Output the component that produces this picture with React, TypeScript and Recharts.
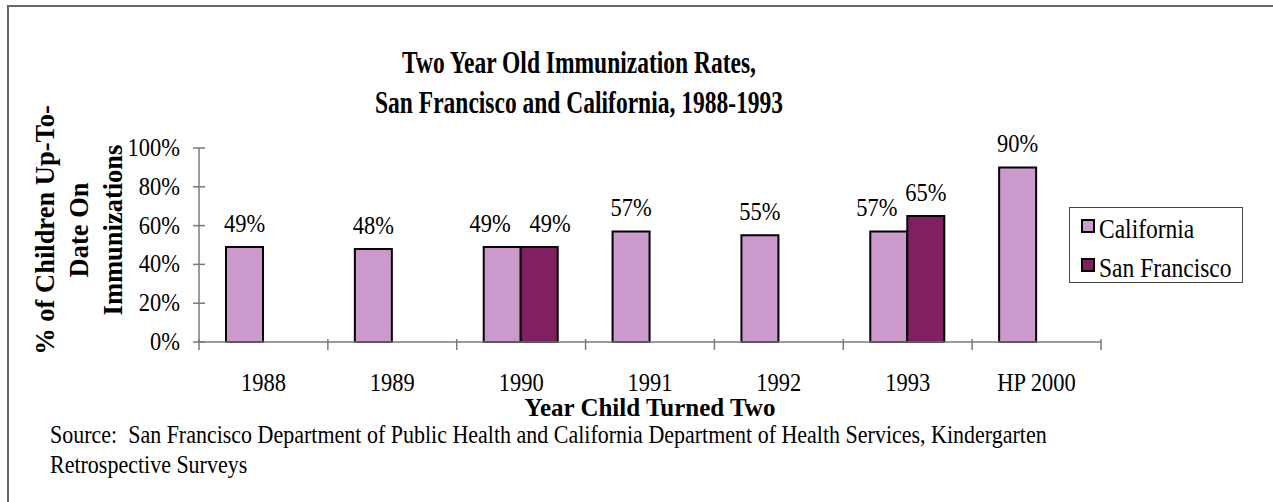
import React from 'react';
import { BarChart, Bar, XAxis, YAxis, LabelList, Legend } from 'recharts';

const categories = ['1988', '1989', '1990', '1991', '1992', '1993', 'HP 2000'];
const california = [49, 48, 49, 57, 55, 57, 90];
const sanFrancisco: (number | null)[] = [null, null, 49, null, null, 65, null];
const yTicks = [0, 20, 40, 60, 80, 100];

const titleLines = ['Two Year Old Immunization Rates,', 'San Francisco and California, 1988-1993'];
const yTitleLines = ['% of Children Up-To-', 'Date On', 'Immunizations'];
const xTitle = 'Year Child Turned Two';
const sourceLines = [
  'Source:  San Francisco Department of Public Health and California Department of Health Services, Kindergarten',
  'Retrospective Surveys',
];

const data = categories.map((c, i) => ({
  year: c,
  california: california[i],
  sanFrancisco: sanFrancisco[i],
}));

const W = 1273;
const H = 502;
const MARGIN = { top: 148, right: 172, bottom: 120, left: 139 };
const Y_AXIS_W = 60;
const X_AXIS_H = 40;
const PLOT_W = W - MARGIN.left - MARGIN.right - Y_AXIS_W;
const BAND = PLOT_W / categories.length;

const FONT = '"Liberation Serif", "Times New Roman", serif';
const CA_COLOR = '#CC99CC';
const SF_COLOR = '#802060';
const AXIS_COLOR = '#7a7a7a';
const STRETCH = 1.12;

const SText = (props: any) => {
  const { x, y, sy = STRETCH, children, ...rest } = props;
  return (
    <text
      x={0}
      y={0}
      transform={`translate(${x},${y}) scale(1,${sy})`}
      fontFamily={FONT}
      fill="#000"
      {...rest}
    >
      {children}
    </text>
  );
};

const XTick = (props: any) => {
  const { x, y, payload, index } = props;
  const left = x - BAND / 2;
  return (
    <g>
      <line x1={left} x2={left} y1={y - 3} y2={y + 8} stroke={AXIS_COLOR} strokeWidth={1.5} />
      {index === categories.length - 1 && (
        <line x1={x + BAND / 2} x2={x + BAND / 2} y1={y - 3} y2={y + 8} stroke={AXIS_COLOR} strokeWidth={1.5} />
      )}
      <SText x={x} y={y + 49} textAnchor="middle" fontSize={22.5}>
        {payload.value}
      </SText>
    </g>
  );
};

const YTick = (props: any) => {
  const { x, y, payload } = props;
  return (
    <g>
      <line x1={x - 6} x2={x + 6} y1={y} y2={y} stroke={AXIS_COLOR} strokeWidth={1.5} />
      <SText x={x - 19} y={y + 8} textAnchor="end" fontSize={22.5}>
        {`${payload.value}%`}
      </SText>
    </g>
  );
};

const makeLabel = (series: 'ca' | 'sf') => (props: any) => {
  const { x, y, width, value, index } = props;
  if (value === null || value === undefined) return null;
  const other = series === 'ca' ? sanFrancisco[index] : california[index];
  let dx = 0;
  if (other !== null && other !== undefined) {
    if (series === 'ca') dx = -12;
    else if (Math.abs((other as number) - value) < 5) dx = 11;
  }
  return (
    <SText x={x + width / 2 + dx} y={y - 15} textAnchor="middle" fontSize={22.5}>
      {`${value}%`}
    </SText>
  );
};

const LegendContent = (props: any) => {
  const items = props.payload || [];
  return (
    <div
      style={{
        width: 174,
        height: 76,
        border: '1.5px solid #444',
        background: '#fff',
        boxSizing: 'border-box',
        fontFamily: FONT,
        position: 'relative',
      }}
    >
      {items.map((it: any, i: number) => (
        <div
          key={it.value}
          style={{ position: 'absolute', left: 11, top: 9 + i * 39, display: 'flex', alignItems: 'flex-start' }}
        >
          <div
            style={{
              width: 14,
              height: 14,
              background: it.color,
              border: '2px solid #000',
              boxSizing: 'border-box',
              marginTop: 2,
              marginRight: 4,
            }}
          />
          <span
            style={{
              fontSize: 23.5,
              lineHeight: '26px',
              color: '#000',
              display: 'inline-block',
              transform: `scaleY(${STRETCH})`,
              transformOrigin: '50% 75%',
              whiteSpace: 'nowrap',
            }}
          >
            {it.value}
          </span>
        </div>
      ))}
    </div>
  );
};

export default function App() {
  return (
    <div
      style={{
        position: 'absolute',
        left: 0,
        top: 0,
        width: W,
        height: H,
        overflow: 'hidden',
        background: '#fff',
        fontFamily: FONT,
      }}
    >
      <div
        style={{
          position: 'absolute',
          left: 7,
          top: 5,
          width: W + 50,
          height: H + 50,
          borderLeft: '2px solid #666',
          borderTop: '2px solid #666',
        }}
      />
      <div style={{ position: 'absolute', left: 0, top: 0 }}>
        <BarChart width={W} height={H} data={data} margin={MARGIN} barGap={0} barSize={37}>
          <XAxis
            dataKey="year"
            height={X_AXIS_H}
            tickSize={0}
            tickMargin={0}
            tickLine={false}
            axisLine={{ stroke: AXIS_COLOR, strokeWidth: 1.5 }}
            tick={<XTick />}
            interval={0}
          />
          <YAxis
            width={Y_AXIS_W}
            domain={[0, 100]}
            ticks={yTicks}
            tickSize={0}
            tickMargin={0}
            tickLine={false}
            axisLine={{ stroke: AXIS_COLOR, strokeWidth: 1.5 }}
            tick={<YTick />}
            interval={0}
          />
          <Legend
            layout="vertical"
            verticalAlign="middle"
            align="center"
            wrapperStyle={{ left: 1069, top: 207, width: 174 }}
            content={<LegendContent />}
          />
          <Bar dataKey="california" name="California" fill={CA_COLOR} stroke="#000" strokeWidth={2} isAnimationActive={false}>
            <LabelList dataKey="california" content={makeLabel('ca')} />
          </Bar>
          <Bar dataKey="sanFrancisco" name="San Francisco" fill={SF_COLOR} stroke="#000" strokeWidth={2} isAnimationActive={false}>
            <LabelList dataKey="sanFrancisco" content={makeLabel('sf')} />
          </Bar>
        </BarChart>
      </div>
      <svg
        width={W}
        height={H}
        style={{ position: 'absolute', left: 0, top: 0, pointerEvents: 'none' }}
      >
        {titleLines.map((t, i) => (
          <SText key={t} x={579} y={73 + i * 40} sy={1.3} textAnchor="middle" fontWeight="bold" fontSize={23.5}>
            {t}
          </SText>
        ))}
        {yTitleLines.map((t, i) => (
          <text
            key={t}
            x={0}
            y={0}
            transform={`translate(${54 + i * 34}, 230) rotate(-90)`}
            textAnchor="middle"
            fontFamily={FONT}
            fontWeight="bold"
            fontSize={26.5}
            fill="#000"
          >
            {t}
          </text>
        ))}
        <SText x={650} y={416} sy={1} textAnchor="middle" fontWeight="bold" fontSize={25}>
          {xTitle}
        </SText>
        {sourceLines.map((t, i) => (
          <SText key={t} x={50} y={443 + i * 30} fontSize={22} xmlSpace="preserve">
            {t}
          </SText>
        ))}
      </svg>
    </div>
  );
}
